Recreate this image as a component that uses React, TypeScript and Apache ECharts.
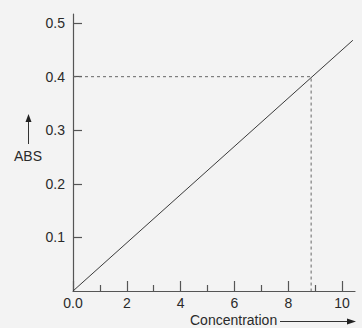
import React, { useEffect, useRef } from "react";
import * as echarts from "echarts";

const calibConc = [0, 10.4];
const calibAbs = [0, 0.468];
const sampleConc = 8.85;
const sampleAbs = 0.4;
const xMajorTicks = [0, 2, 4, 6, 8, 10];
const xMinorTicks = [1, 3, 5, 7, 9];
const yTicks = [0, 0.1, 0.2, 0.3, 0.4, 0.5];
const xLabels = ["0.0", "2", "4", "6", "8", "10"];

export default function App() {
  const ref = useRef<HTMLDivElement>(null);
  useEffect(() => {
    const chart = echarts.init(ref.current!, null, { renderer: "svg" });
    const font = "'Liberation Sans', Arial, sans-serif";
    const axisColor = "#555";
    const textColor = "#2a2a2a";
    chart.setOption({
      animation: false,
      backgroundColor: "#f3f3f3",
      grid: { left: 73, right: 7, top: 14, bottom: 37 },
      xAxis: [
        {
          type: "value",
          min: 0,
          max: 10.48,
          axisLine: { show: true, onZero: false, lineStyle: { color: axisColor, width: 1.2 } },
          axisTick: { show: true, inside: true, length: 10, customValues: xMajorTicks, lineStyle: { color: axisColor, width: 1.2 } },
          axisLabel: {
            show: true,
            customValues: xMajorTicks,
            margin: 5,
            fontSize: 14,
            fontFamily: font,
            color: textColor,
            formatter: (v: number) => xLabels[xMajorTicks.indexOf(Math.round(v))] ?? "",
          },
          splitLine: { show: false },
        },
        {
          type: "value",
          min: 0,
          max: 10.48,
          position: "bottom",
          axisLine: { show: false },
          axisTick: { show: true, inside: true, length: 6, customValues: xMinorTicks, lineStyle: { color: axisColor, width: 1.2 } },
          axisLabel: { show: false },
          splitLine: { show: false },
        },
      ],
      yAxis: {
        type: "value",
        min: 0,
        max: 0.517,
        axisLine: { show: true, onZero: false, lineStyle: { color: axisColor, width: 1.2 } },
        axisTick: { show: true, inside: true, length: 9, customValues: yTicks.slice(1), lineStyle: { color: axisColor, width: 1.2 } },
        axisLabel: {
          show: true,
          customValues: yTicks.slice(1),
          margin: 8,
          fontSize: 14,
          fontFamily: font,
          color: textColor,
          formatter: (v: number) => v.toFixed(1),
        },
        splitLine: { show: false },
      },
      series: [
        {
          type: "line",
          xAxisIndex: 0,
          data: calibConc.map((c, i) => [c, calibAbs[i]]),
          symbol: "none",
          lineStyle: { color: "#3a3a3a", width: 1 },
        },
        {
          type: "line",
          xAxisIndex: 0,
          data: [
            [0, sampleAbs],
            [sampleConc, sampleAbs],
            [sampleConc, 0],
          ],
          symbol: "none",
          lineStyle: { color: "#666", width: 1, type: [3, 3] },
        },
      ],
      graphic: [
        {
          type: "text",
          left: 14,
          top: 149,
          style: { text: "ABS", fontSize: 14, fontFamily: font, fill: textColor },
        },
        {
          type: "line",
          shape: { x1: 28.5, y1: 144, x2: 28.5, y2: 121 },
          style: { stroke: "#333", lineWidth: 1 },
        },
        {
          type: "polygon",
          shape: { points: [[28.5, 114], [25.5, 122], [31.5, 122]] },
          style: { fill: "#222" },
        },
        {
          type: "text",
          left: 190,
          top: 313,
          style: { text: "Concentration", fontSize: 14, fontFamily: font, fill: textColor },
        },
        {
          type: "line",
          shape: { x1: 280, y1: 321.5, x2: 348, y2: 321.5 },
          style: { stroke: "#333", lineWidth: 1 },
        },
        {
          type: "polygon",
          shape: { points: [[356, 321.5], [347, 318.5], [347, 324.5]] },
          style: { fill: "#222" },
        },
      ],
    });
    return () => chart.dispose();
  }, []);
  return (
    <div
      ref={ref}
      style={{ position: "absolute", left: 0, top: 0, width: 362, height: 328 }}
    />
  );
}
